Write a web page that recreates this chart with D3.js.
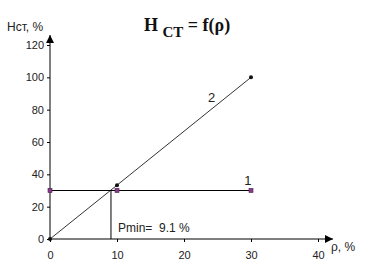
<!DOCTYPE html>
<html>
<head>
<meta charset="utf-8">
<script src="https://cdn.jsdelivr.net/npm/d3@7"></script>
<style>
  body { margin: 0; background: #fff; }
  svg text { font-family: Arial, "Liberation Sans", sans-serif; }
</style>
</head>
<body>
<div id="chart"></div>
<script>
// data
const xTicks = [0, 10, 20, 30, 40];
const yTicks = [0, 20, 40, 60, 80, 100, 120];
const series1X = [0, 10, 30];
const series1Y = [30, 30, 30];
const series2X = [0, 10, 30];
const series2Y = [0, 33.3, 100];
const pMin = 9.1;
const hLevel = 30;

const width = 376, height = 277;

const svg = d3.select('#chart').append('svg')
  .attr('width', width)
  .attr('height', height);

const x = d3.scaleLinear().domain([0, 40]).range([50, 318]);
const y = d3.scaleLinear().domain([0, 120]).range([239, 45]);

// arrowhead marker
svg.append('defs').append('marker')
  .attr('id', 'arrow')
  .attr('viewBox', '0 0 10 10')
  .attr('refX', 10).attr('refY', 5)
  .attr('markerWidth', 10).attr('markerHeight', 8)
  .attr('markerUnits', 'userSpaceOnUse')
  .attr('orient', 'auto')
  .append('path').attr('d', 'M0,0 L10,5 L0,10 Z').attr('fill', '#000');

// x axis
const xAxis = svg.append('g')
  .attr('transform', `translate(0,${y(0)})`)
  .call(d3.axisBottom(x).tickValues(xTicks).tickSize(3).tickSizeOuter(0));
xAxis.select('.domain').remove();
xAxis.selectAll('text').attr('dy', '1.3em').style('font-size', '11px').attr('fill', '#222');

svg.append('line')
  .attr('x1', x(0)).attr('x2', 333)
  .attr('y1', y(0)).attr('y2', y(0))
  .attr('stroke', '#000').attr('marker-end', 'url(#arrow)');

// y axis
const yAxis = svg.append('g')
  .attr('transform', `translate(${x(0)},0)`)
  .call(d3.axisLeft(y).tickValues(yTicks).tickSize(3).tickSizeOuter(0));
yAxis.select('.domain').remove();
yAxis.selectAll('text').attr('x', -6).style('font-size', '11px').attr('fill', '#222');

svg.append('line')
  .attr('x1', x(0)).attr('x2', x(0))
  .attr('y1', y(0)).attr('y2', 35)
  .attr('stroke', '#000').attr('marker-end', 'url(#arrow)');

// vertical Pmin line
svg.append('line')
  .attr('x1', x(pMin)).attr('x2', x(pMin))
  .attr('y1', y(0)).attr('y2', y(hLevel))
  .attr('stroke', '#000');

const line = d3.line().x(d => x(d[0])).y(d => y(d[1]));
const s1 = series1X.map((v, i) => [v, series1Y[i]]);
const s2 = series2X.map((v, i) => [v, series2Y[i]]);

// series 1
svg.append('path').datum(s1)
  .attr('d', line).attr('fill', 'none').attr('stroke', '#000').attr('stroke-width', 1);
svg.selectAll('.m1').data(s1).join('rect')
  .attr('x', d => x(d[0]) - 2).attr('y', d => y(d[1]) - 2)
  .attr('width', 4).attr('height', 4)
  .attr('fill', '#8a3a8a').attr('stroke', '#4a1a4a').attr('stroke-width', 0.6);

// series 2
svg.append('path').datum(s2)
  .attr('d', line).attr('fill', 'none').attr('stroke', '#000').attr('stroke-width', 0.8);
svg.selectAll('.m2').data(s2).join('circle')
  .attr('cx', d => x(d[0])).attr('cy', d => y(d[1]))
  .attr('r', 2).attr('fill', '#111');

// labels
svg.append('text').attr('x', x(29)).attr('y', y(hLevel) - 6)
  .style('font-size', '13px').attr('fill', '#222').text('1');
svg.append('text').attr('x', 208).attr('y', 102)
  .style('font-size', '13px').attr('fill', '#222').text('2');
svg.append('text').attr('x', x(pMin) + 7).attr('y', 232)
  .style('font-size', '12px').attr('fill', '#222')
  .attr('xml:space', 'preserve').text('Pmin=  9.1 %');

svg.append('text').attr('x', 7).attr('y', 31)
  .style('font-size', '12px').attr('fill', '#222').text('Нст, %');
svg.append('text').attr('x', 331).attr('y', 251)
  .style('font-size', '12px').attr('fill', '#222').text('ρ, %');

// title
const title = svg.append('text').attr('x', 144).attr('y', 31)
  .style('font-family', '"Liberation Serif", "Times New Roman", serif')
  .style('font-weight', 'bold').style('font-size', '18px').attr('fill', '#111')
  .attr('xml:space', 'preserve');
title.append('tspan').text('H ');
title.append('tspan').attr('dy', 6).style('font-size', '15px').text('СТ');
title.append('tspan').attr('dy', -6).text(' = f(ρ)');
</script>
</body>
</html>
